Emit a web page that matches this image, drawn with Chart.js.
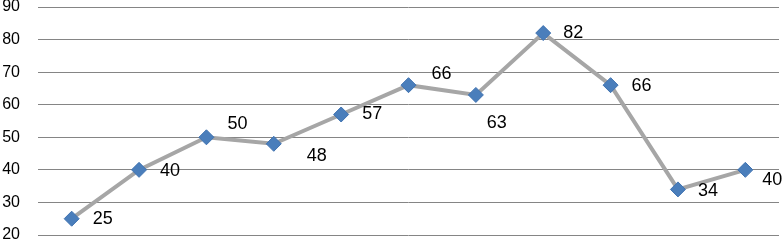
<!DOCTYPE html>
<html>
<head>
<meta charset="utf-8">
<script src="https://cdn.jsdelivr.net/npm/chart.js"></script>
<style>
  html, body { margin: 0; padding: 0; background: #fff; overflow: hidden; }
  canvas { display: block; }
</style>
</head>
<body>
<canvas id="lineChart" width="783" height="241"></canvas>
<script>
// chart data
const categories = ['1', '2', '3', '4', '5', '6', '7', '8', '9', '10', '11'];
const values = [25, 40, 50, 48, 57, 66, 63, 82, 66, 34, 40];
const yTicks = [20, 30, 40, 50, 60, 70, 80, 90];

// where each value label sits relative to its marker (px)
const labelDx = [31, 31, 31, 43, 31, 33, 21, 30, 31, 30, 27];
const labelDy = [0, 1, -13, 12, 0, -11, 28, 0, 1, 2, 10];

const valueLabels = {
    id: 'valueLabels',
    afterDatasetsDraw(chart) {
        const ctx = chart.ctx;
        const meta = chart.getDatasetMeta(0);
        ctx.save();
        ctx.font = '18px "Liberation Sans", Arial, sans-serif';
        ctx.fillStyle = '#000';
        ctx.textAlign = 'center';
        ctx.textBaseline = 'middle';
        meta.data.forEach((pt, i) => {
            ctx.fillText(String(values[i]), pt.x + labelDx[i], pt.y + labelDy[i]);
        });
        ctx.restore();
    }
};

const ctx = document.getElementById('lineChart').getContext('2d');
new Chart(ctx, {
    type: 'line',
    data: {
        labels: categories,
        datasets: [{
            data: values,
            borderColor: '#a6a6a6',
            borderWidth: 4,
            pointStyle: 'rectRot',
            pointRadius: 7.5,
            pointBackgroundColor: '#4a7ebb',
            pointBorderColor: '#3f72b0',
            pointBorderWidth: 1,
            tension: 0,
            clip: false
        }]
    },
    options: {
        responsive: false,
        animation: false,
        layout: { autoPadding: false, padding: { top: 7, bottom: 6, right: 4, left: 0 } },
        plugins: { legend: { display: false }, tooltip: { enabled: false } },
        scales: {
            x: {
                display: false,
                offset: true
            },
            y: {
                min: 20,
                max: 90,
                afterBuildTicks: scale => { scale.ticks = yTicks.map(v => ({ value: v })); },
                afterFit: scale => {
                    // fixed axis width; keep the tick padding from pushing the plot down
                    scale.width = 38;
                    scale.paddingTop = 0;
                    scale.paddingBottom = 0;
                },
                border: { display: false },
                grid: { color: '#858585', lineWidth: 1, drawTicks: false },
                ticks: {
                    padding: 18,
                    color: '#000',
                    font: { family: '"Liberation Sans", Arial, sans-serif', size: 16 }
                }
            }
        }
    },
    plugins: [valueLabels]
});
</script>
</body>
</html>
